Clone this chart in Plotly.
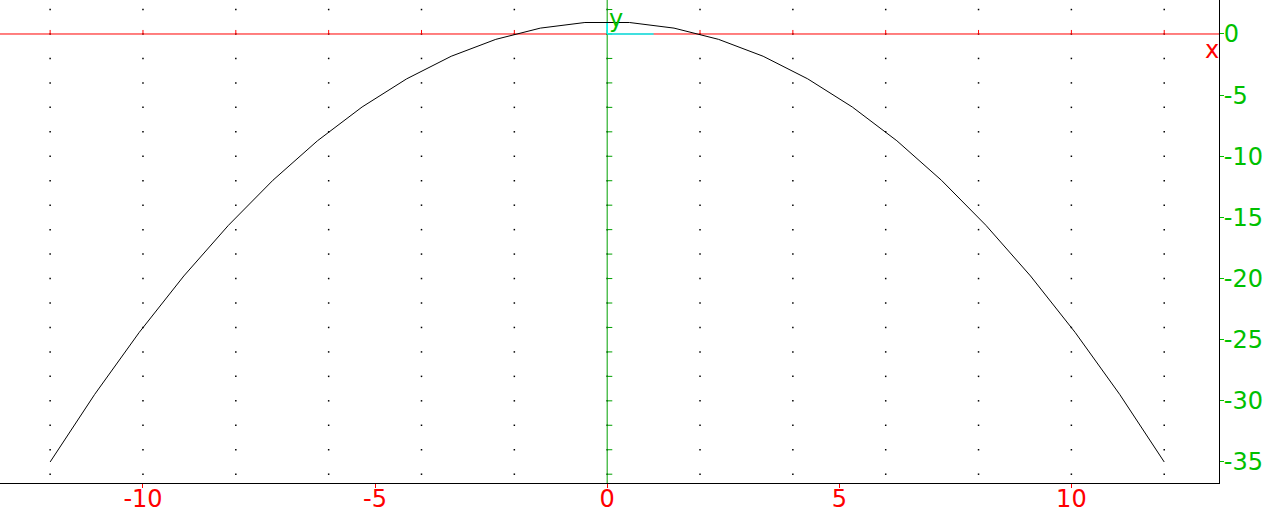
import plotly.graph_objects as go

# Curve vertices (x, y)
curve_x = [-12.0, -11.04, -10.08, -9.12, -8.16, -7.2, -6.24, -5.28, -4.32, -3.36, -2.4, -1.44, -0.48,
           0.48, 1.44, 2.4, 3.36, 4.32, 5.28, 6.24, 7.2, 8.16, 9.12, 10.08, 11.04, 12.0]
curve_y = [-35.0, -29.47, -24.4, -19.79, -15.65, -11.96, -8.73, -5.97, -3.67, -1.82, -0.44, 0.48, 0.94,
           0.94, 0.48, -0.44, -1.82, -3.67, -5.97, -8.73, -11.96, -15.65, -19.79, -24.4, -29.47, -35.0]

x_tick_vals = [-10, -5, 0, 5, 10]
x_tick_text = ["-10", "-5", "0", "5", "10"]
y_tick_vals = [0, -5, -10, -15, -20, -25, -30, -35]
y_tick_text = ["0", "-5", "-10", "-15", "-20", "-25", "-30", "-35"]

grid_x = list(range(-12, 13, 2))
grid_y = list(range(2, -37, -2))

X_RANGE = [-13.08, 13.18]
Y_RANGE = [-36.72, 2.78]
FONT = "DejaVu Sans"
RED = "#ff0000"
GREEN_LINE = "#00a000"
GREEN_TEXT = "#00c000"

fig = go.Figure()

# grid dots
gx, gy = [], []
for xv in grid_x:
    for yv in grid_y:
        gx.append(xv)
        gy.append(yv)
fig.add_trace(go.Scatter(x=gx, y=gy, mode="markers",
                         marker=dict(symbol="square", size=1.5, color="black", line=dict(width=0)),
                         hoverinfo="skip", showlegend=False))

# x axis (red) with ticks pointing up
fig.add_trace(go.Scatter(x=X_RANGE, y=[0, 0], mode="lines", line=dict(color=RED, width=1),
                         hoverinfo="skip", showlegend=False))
tx, ty = [], []
for xv in grid_x:
    tx += [xv, xv, None]
    ty += [0, 0.33, None]
fig.add_trace(go.Scatter(x=tx, y=ty, mode="lines", line=dict(color=RED, width=1),
                         hoverinfo="skip", showlegend=False))

# y axis (green) with ticks pointing right
fig.add_trace(go.Scatter(x=[0, 0], y=Y_RANGE, mode="lines", line=dict(color=GREEN_LINE, width=1),
                         hoverinfo="skip", showlegend=False))
vx, vy = [], []
for yv in grid_y:
    vx += [0, 0.11, None]
    vy += [yv, yv, None]
fig.add_trace(go.Scatter(x=vx, y=vy, mode="lines", line=dict(color=GREEN_LINE, width=1),
                         hoverinfo="skip", showlegend=False))

# cyan unit vectors
fig.add_trace(go.Scatter(x=[0, 1], y=[0, 0], mode="lines", line=dict(color="#00ffff", width=1.5),
                         hoverinfo="skip", showlegend=False))
fig.add_trace(go.Scatter(x=[0, 0], y=[0, 1], mode="lines", line=dict(color="#00ffff", width=1.5),
                         hoverinfo="skip", showlegend=False))

# curve
fig.add_trace(go.Scatter(x=curve_x, y=curve_y, mode="lines", line=dict(color="black", width=1),
                         hoverinfo="skip", showlegend=False))

fig.add_annotation(x=1.0, xref="paper", y=-1.3, text="x", showarrow=False, xanchor="right",
                   yanchor="middle", xshift=2,
                   font=dict(family=FONT, size=24, color=RED))
fig.add_annotation(x=0.0, y=1.2, text="y", showarrow=False, xanchor="left", yanchor="middle",
                   font=dict(family=FONT, size=24, color=GREEN_TEXT))

fig.update_layout(
    template="none",
    width=1264, height=508,
    margin=dict(l=0, r=45, t=0, b=25, pad=0),
    paper_bgcolor="white", plot_bgcolor="white",
    showlegend=False,
    xaxis=dict(range=X_RANGE, showgrid=False, zeroline=False, showline=True, linecolor="black",
               linewidth=1, mirror=True, tickvals=x_tick_vals, ticktext=x_tick_text,
               ticks="outside", ticklen=4, tickcolor=RED, tickwidth=1, ticklabelstandoff=-10,
               tickfont=dict(family=FONT, size=24, color=RED), automargin=False, fixedrange=True),
    yaxis=dict(range=Y_RANGE, side="right", showgrid=False, zeroline=False, showline=True,
               linecolor="black", linewidth=1, mirror=False, tickvals=y_tick_vals,
               ticktext=y_tick_text, ticks="outside", ticklen=4, tickcolor=GREEN_TEXT, tickwidth=1,
               ticklabelstandoff=-5,
               tickfont=dict(family=FONT, size=24, color=GREEN_TEXT), automargin=False,
               fixedrange=True),
)

fig.write_html("out.html", config={"displayModeBar": False},
               post_script="document.body.style.margin='0';document.body.style.padding='0';"
                           "document.body.style.overflow='hidden';")
